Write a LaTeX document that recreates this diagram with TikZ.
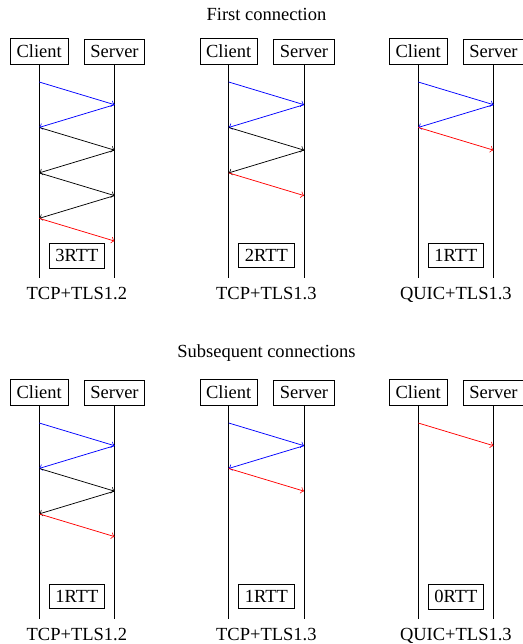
\documentclass[tikz,border=0pt]{standalone}
\usepackage{fontspec}
\setmainfont{Liberation Serif}
\begin{document}
\begin{tikzpicture}[x=0.5405pt,y=-0.5405pt,
  box/.style={draw,fill=white,inner sep=3.33pt},
  lifeline/.style={draw,line width=0.4pt},
  msg/.style={->,line width=0.4pt},
  hs/.style={msg,blue},
  ks/.style={msg,black},
  ds/.style={msg,red},
  lbl/.style={anchor=base}]
\useasboundingbox (0,0) rectangle (523,644);

% column macro: #1 prefix, #2 x, #3 y-offset, #4 label, #5 rtt
\newcommand\seqlane[5]{%
  \begin{scope}[shift={(#2,#3)}]
    \node[box] (#1c) at (0,51.5) {Client};
    \node[box] (#1s) at (75.3,51.5) {Server};
    \coordinate (#1ce) at (0,278);
    \coordinate (#1se) at (75.3,278);
    \draw[lifeline] (#1c) -- (#1ce);
    \draw[lifeline] (#1s) -- (#1se);
    \foreach \k in {0,1,2,3} {
      \coordinate (#1c\k) at (0,82+45.45*\k);
      \coordinate (#1s\k) at (75.3,104.7+45.45*\k);
    }
    \node[box] (#1r) at (37.65,255.5) {#5};
    \node[lbl] (#1l) at (37.65,299) {#4};
  \end{scope}}

\node[lbl] (t1) at (266.5,20.5) {First connection};
\node[lbl] (t2) at (266.5,357.5) {Subsequent connections};

\seqlane{a}{39.2}{0}{TCP+TLS1.2}{3RTT}
\seqlane{b}{228.7}{0}{TCP+TLS1.3}{2RTT}
\seqlane{q}{418.2}{0}{QUIC+TLS1.3}{1RTT}
\seqlane{d}{39.2}{341}{TCP+TLS1.2}{1RTT}
\seqlane{e}{228.7}{341}{TCP+TLS1.3}{1RTT}
\seqlane{f}{418.2}{341}{QUIC+TLS1.3}{0RTT}

% first connection, TCP+TLS1.2
\draw[hs] (ac0) -- (as0);
\draw[hs] (as0) -- (ac1);
\draw[ks] (ac1) -- (as1);
\draw[ks] (as1) -- (ac2);
\draw[ks] (ac2) -- (as2);
\draw[ks] (as2) -- (ac3);
\draw[ds] (ac3) -- (as3);
% first connection, TCP+TLS1.3
\draw[hs] (bc0) -- (bs0);
\draw[hs] (bs0) -- (bc1);
\draw[ks] (bc1) -- (bs1);
\draw[ks] (bs1) -- (bc2);
\draw[ds] (bc2) -- (bs2);
% first connection, QUIC
\draw[hs] (qc0) -- (qs0);
\draw[hs] (qs0) -- (qc1);
\draw[ds] (qc1) -- (qs1);
% subsequent, TCP+TLS1.2
\draw[hs] (dc0) -- (ds0);
\draw[hs] (ds0) -- (dc1);
\draw[ks] (dc1) -- (ds1);
\draw[ks] (ds1) -- (dc2);
\draw[ds] (dc2) -- (ds2);
% subsequent, TCP+TLS1.3
\draw[hs] (ec0) -- (es0);
\draw[hs] (es0) -- (ec1);
\draw[ds] (ec1) -- (es1);
% subsequent, QUIC
\draw[ds] (fc0) -- (fs0);
\end{tikzpicture}
\end{document}
